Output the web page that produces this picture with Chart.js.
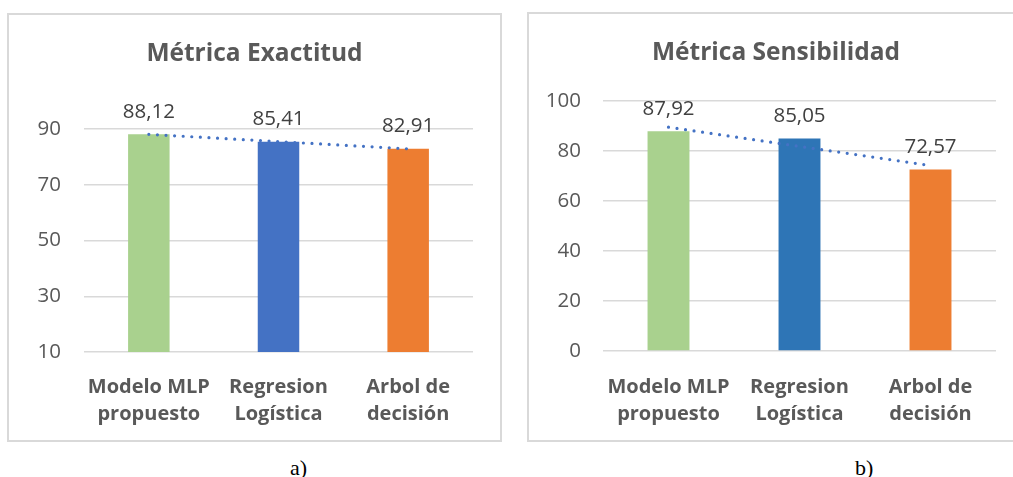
<!DOCTYPE html>
<html>
<head>
<meta charset="utf-8">
<script src="https://cdn.jsdelivr.net/npm/chart.js@4"></script>
<style>
  html, body { margin: 0; padding: 0; background: #fff; overflow: hidden; width: 1013px; height: 477px; }
  .frame { position: absolute; box-sizing: border-box; border: 2px solid #D9D9D9; background: #fff; }
  .frame canvas { display: block; }
  .cap { position: absolute; font-family: "Liberation Serif", "Times New Roman", serif; font-size: 22px; color: #000; line-height: 1; }
</style>
</head>
<body>
<div class="frame" style="left:7px; top:13px; width:495px; height:429px;">
  <canvas id="chartA" width="491" height="425"></canvas>
</div>
<div class="frame" style="left:527px; top:12px; width:498px; height:430px;">
  <canvas id="chartB" width="494" height="426"></canvas>
</div>
<div class="cap" style="left:290px; top:457px;">a)</div>
<div class="cap" style="left:855px; top:457px;">b)</div>

<script>
// Categories shared by both panels
const categories = [["Modelo MLP", "propuesto"], ["Regresion", "Logística"], ["Arbol de", "decisión"]];

// Panel a) accuracy values
const exactitud = [88.12, 85.41, 82.91];
const exactitudColors = ["#A9D18E", "#4472C4", "#ED7D31"];
const exactitudTicks = [10, 30, 50, 70, 90];

// Panel b) sensitivity values
const sensibilidad = [87.92, 85.05, 72.57];
const sensibilidadColors = ["#A9D18E", "#2E75B6", "#ED7D31"];
const sensibilidadTicks = [0, 20, 40, 60, 80, 100];

const FONT = "'Open Sans', 'Noto Sans', sans-serif";

// Least-squares linear trend evaluated at each category position
function linearTrend(values) {
  const n = values.length;
  const xs = values.map((_, i) => i + 1);
  const mx = xs.reduce((a, b) => a + b, 0) / n;
  const my = values.reduce((a, b) => a + b, 0) / n;
  let num = 0, den = 0;
  for (let i = 0; i < n; i++) { num += (xs[i] - mx) * (values[i] - my); den += (xs[i] - mx) ** 2; }
  const slope = num / den;
  return xs.map(x => my + slope * (x - mx));
}

// Writes each bar's value above it, with a decimal comma
const valueLabels = {
  id: "valueLabels",
  afterDatasetsDraw(chart) {
    const ctx = chart.ctx;
    const meta = chart.getDatasetMeta(0);
    const data = chart.data.datasets[0].data;
    ctx.save();
    ctx.font = "20.5px " + FONT;
    ctx.fillStyle = "#404040";
    ctx.textAlign = "center";
    ctx.textBaseline = "alphabetic";
    meta.data.forEach((bar, i) => {
      ctx.fillText(data[i].toFixed(2).replace(".", ","), bar.x, bar.y - 16.5);
    });
    ctx.restore();
  }
};

function buildChart(id, cfg) {
  const ticks = cfg.ticks;
  return new Chart(document.getElementById(id), {
    data: {
      labels: categories,
      datasets: [
        {
          type: "bar",
          data: cfg.values,
          backgroundColor: cfg.colors,
          categoryPercentage: 1,
          barPercentage: 0.32,
          order: 1
        },
        {
          type: "line",
          data: linearTrend(cfg.values),
          borderColor: "#4472C4",
          borderWidth: 3.2,
          borderDash: [0, 8.6],
          borderCapStyle: "round",
          pointRadius: 0,
          fill: false,
          tension: 0,
          order: 0
        }
      ]
    },
    options: {
      responsive: false,
      animation: false,
      events: [],
      layout: { padding: 0 },
      plugins: {
        legend: { display: false },
        tooltip: { enabled: false },
        title: {
          display: true,
          text: cfg.title,
          color: "#595959",
          font: { family: FONT, size: 24.5, weight: "bold", lineHeight: 1.2 },
          padding: { top: cfg.titleTop, bottom: cfg.titleBottom }
        }
      },
      scales: {
        x: {
          grid: { display: false },
          border: { display: false },
          ticks: {
            color: "#595959",
            font: { family: FONT, size: 20, weight: "bold", lineHeight: 1.35 },
            padding: cfg.xPad,
            maxRotation: 0,
            autoSkip: false
          },
          afterFit(s) { s.height = cfg.xHeight; }
        },
        y: {
          min: ticks[0],
          max: ticks[ticks.length - 1],
          afterBuildTicks(s) { s.ticks = ticks.map(v => ({ value: v })); },
          grid: { color: "#D9D9D9", lineWidth: 1.5, drawTicks: false },
          border: { display: false },
          ticks: {
            color: "#595959",
            font: { family: FONT, size: 20.5 },
            padding: cfg.yPad
          },
          afterFit(s) { s.width = cfg.yWidth; }
        },
        yRight: {
          position: "right",
          display: true,
          grid: { display: false },
          border: { display: false },
          ticks: { display: false },
          afterFit(s) { s.width = 27; }
        }
      }
    },
    plugins: [valueLabels]
  });
}

buildChart("chartA", {
  title: "Métrica Exactitud",
  values: exactitud,
  colors: exactitudColors,
  ticks: exactitudTicks,
  titleTop: 24.3,
  titleBottom: 60.3,
  xHeight: 88,
  xPad: 13.5,
  yWidth: 75,
  yPad: 23
});

buildChart("chartB", {
  title: "Métrica Sensibilidad",
  values: sensibilidad,
  colors: sensibilidadColors,
  ticks: sensibilidadTicks,
  titleTop: 24.3,
  titleBottom: 33.3,
  xHeight: 89,
  xPad: 14.5,
  yWidth: 74,
  yPad: 22
});
</script>
</body>
</html>
